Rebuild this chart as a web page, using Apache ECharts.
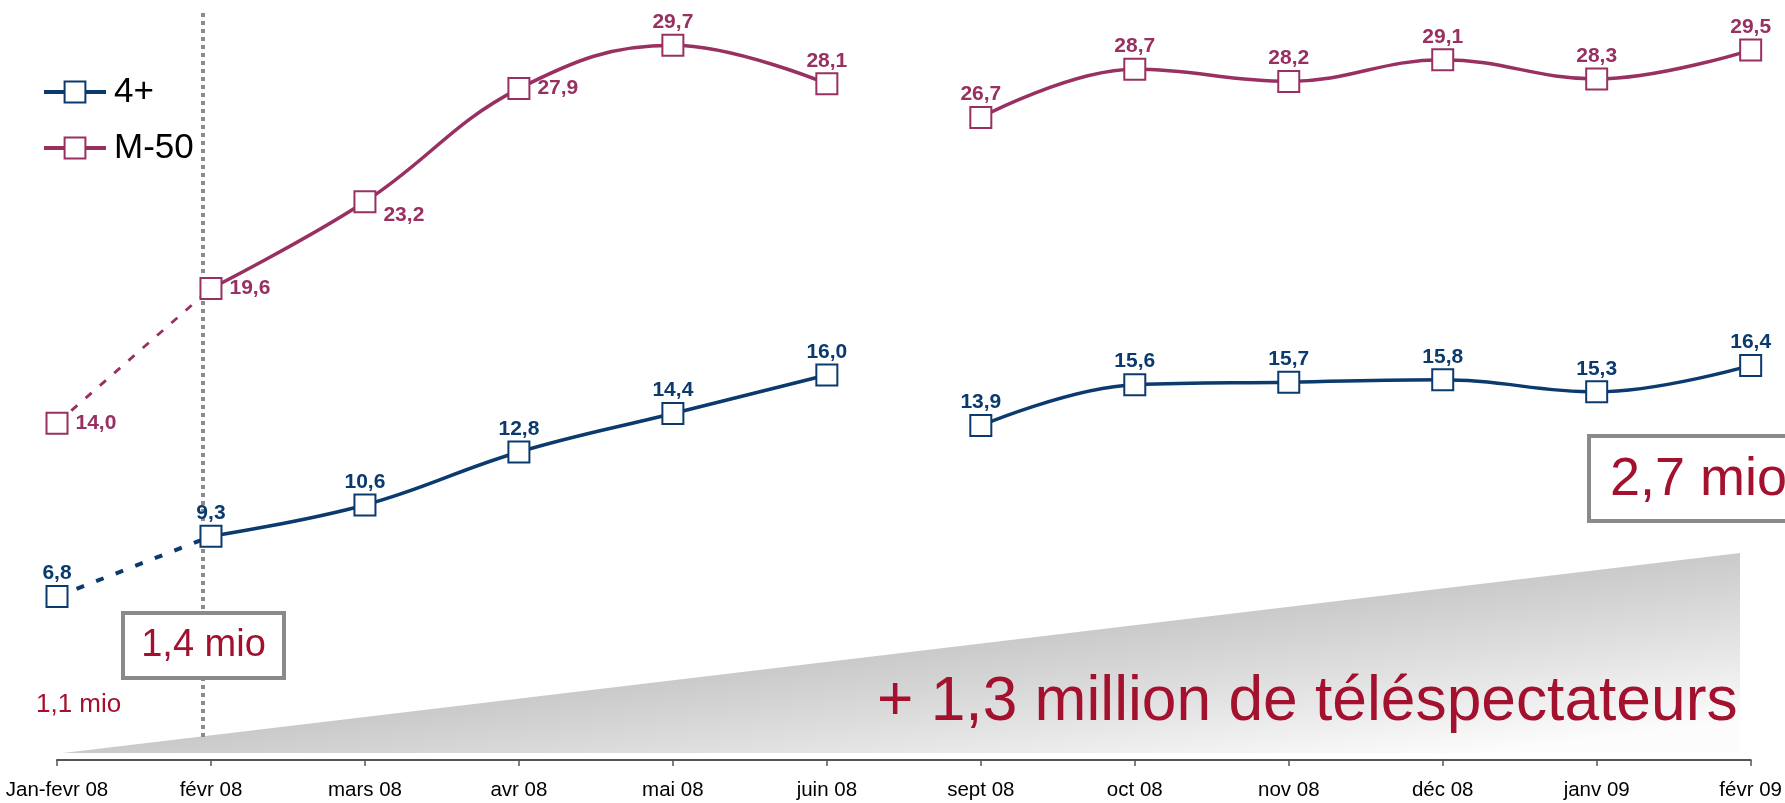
<!DOCTYPE html>
<html>
<head>
<meta charset="utf-8">
<script src="https://cdn.jsdelivr.net/npm/echarts@6/dist/echarts.min.js"></script>
<style>
html,body{margin:0;padding:0;background:#fff;}
#chart{width:1785px;height:803px;}
</style>
</head>
<body>
<div id="chart"></div>
<script>
// ---- data ----
const categories = ['Jan-fevr 08', 'févr 08', 'mars 08', 'avr 08', 'mai 08', 'juin 08',
  'sept 08', 'oct 08', 'nov 08', 'déc 08', 'janv 09', 'févr 09'];
const values4plus = [6.8, 9.3, 10.6, 12.8, 14.4, 16.0, 13.9, 15.6, 15.7, 15.8, 15.3, 16.4];
const valuesM50 = [14.0, 19.6, 23.2, 27.9, 29.7, 28.1, 26.7, 28.7, 28.2, 29.1, 28.3, 29.5];
const seriesNames = ['4+', 'M-50'];
const annotationTexts = ['1,1 mio', '1,4 mio', '2,7 mio', '+ 1,3 million de téléspectateurs'];

// ---- styling ----
const BLUE = '#0b3a6e';
const PURPLE = '#983062';
const RED = '#a3112f';
const FONT = "'Liberation Sans', Arial, Helvetica, sans-serif";
const fmt = v => Number(v).toFixed(1).replace('.', ',');

function segment(values, from, to, opts) {
  return values.map((v, i) => {
    if (i < from || i > to) return '-';
    if (opts && opts.hideIdx && opts.hideIdx.indexOf(i) >= 0) {
      return { value: v, symbol: 'none', label: { show: false } };
    }
    if (opts && opts.labelFor) {
      const l = opts.labelFor(i);
      if (l) return { value: v, label: l };
    }
    return v;
  });
}

function makeSeries(name, values, color, labelFor, dashWidth, dashPattern) {
  const base = {
    type: 'line',
    name: name,
    smooth: 0.4,
    symbol: 'rect',
    symbolSize: 21,
    showAllSymbol: true,
    color: color,
    itemStyle: { color: '#fff', borderColor: color, borderWidth: 2 },
    lineStyle: { color: color, width: 3.5 },
    label: {
      show: true, position: 'top', distance: 1, color: color,
      fontFamily: FONT, fontWeight: 'bold', fontSize: 21,
      formatter: p => fmt(p.value)
    },
    emphasis: { disabled: true },
    animation: false,
    z: 3
  };
  return [
    Object.assign({}, base, { data: segment(values, 1, 5, { labelFor: labelFor }) }),
    Object.assign({}, base, { data: segment(values, 6, 11, { labelFor: labelFor }) }),
    Object.assign({}, base, {
      smooth: false,
      lineStyle: { color: color, width: dashWidth, type: dashPattern },
      data: segment(values, 0, 1, { hideIdx: [1], labelFor: labelFor })
    })
  ];
}

const m50Label = i => {
  if (i === 2) return { position: 'right', distance: 7, offset: [0, 13] };
  if (i <= 3) return { position: 'right', distance: 7 };
  return null;
};

const series = [].concat(
  makeSeries(seriesNames[0], values4plus, BLUE, null, 4, [8, 13]),
  makeSeries(seriesNames[1], valuesM50, PURPLE, m50Label, 2.8, [8, 11])
);

const chart = echarts.init(document.getElementById('chart'), null, { renderer: 'canvas' });

const triPts = [[63, 753], [1740, 553], [1740, 753]];

chart.setOption({
  animation: false,
  backgroundColor: '#fff',
  grid: { left: 57, right: 27, top: 14, bottom: 40, containLabel: false },
  legend: {
    data: seriesNames,
    orient: 'vertical',
    left: 42,
    top: 74,
    padding: 0,
    itemWidth: 62,
    itemHeight: 26,
    itemGap: 20,
    selectedMode: false,
    lineStyle: { width: 4 },
    itemStyle: { borderWidth: 2 },
    textStyle: { fontFamily: FONT, fontSize: 35, color: '#000', lineHeight: 36, padding: [0, 0, 0, 3] }
  },
  xAxis: {
    type: 'category',
    data: categories,
    boundaryGap: false,
    axisLine: { lineStyle: { color: '#555', width: 2 } },
    axisTick: { show: true, length: 6, lineStyle: { color: '#555', width: 1.5 } },
    axisLabel: { interval: 0, margin: 17, color: '#000', fontFamily: FONT, fontSize: 20.5 },
    splitLine: { show: false }
  },
  yAxis: {
    type: 'value',
    min: -0.12,
    max: 31,
    show: false,
    splitLine: { show: false }
  },
  series: series,
  graphic: {
    elements: [
      {
        type: 'polygon', z: 0, silent: true,
        shape: { points: triPts },
        style: {
          fill: {
            type: 'linear', global: true, x: 900, y: 653, x2: 920, y2: 820,
            colorStops: [
              { offset: 0, color: '#cacaca' },
              { offset: 0.45, color: '#e0e0e0' },
              { offset: 1, color: '#fcfcfc' }
            ]
          }
        }
      },
      {
        type: 'line', z: 1, silent: true,
        shape: { x1: 203, y1: 13, x2: 203, y2: 737 },
        style: { stroke: '#8c8c8c', lineWidth: 4, lineDash: [4, 4] }
      },
      {
        type: 'rect', z: 50, silent: true,
        shape: { x: 123, y: 613, width: 161, height: 65 },
        style: { fill: '#fff', stroke: '#8a8a8a', lineWidth: 4 }
      },
      {
        type: 'text', z: 51, silent: true,
        x: 203.5, y: 646,
        style: { text: annotationTexts[1], fill: RED, font: '38px ' + FONT, textAlign: 'center', textVerticalAlign: 'middle' }
      },
      {
        type: 'text', z: 51, silent: true,
        x: 36, y: 705,
        style: { text: annotationTexts[0], fill: RED, font: '26px ' + FONT, textAlign: 'left', textVerticalAlign: 'middle' }
      },
      {
        type: 'rect', z: 50, silent: true,
        shape: { x: 1589, y: 436, width: 250, height: 85 },
        style: { fill: '#fff', stroke: '#8a8a8a', lineWidth: 4 }
      },
      {
        type: 'text', z: 51, silent: true,
        x: 1610, y: 480,
        style: { text: annotationTexts[2], fill: RED, font: '54px ' + FONT, textAlign: 'left', textVerticalAlign: 'middle' }
      },
      {
        type: 'text', z: 51, silent: true,
        x: 877, y: 703,
        style: { text: annotationTexts[3], fill: RED, font: '62.3px ' + FONT, textAlign: 'left', textVerticalAlign: 'middle' }
      }
    ]
  }
});
</script>
</body>
</html>
